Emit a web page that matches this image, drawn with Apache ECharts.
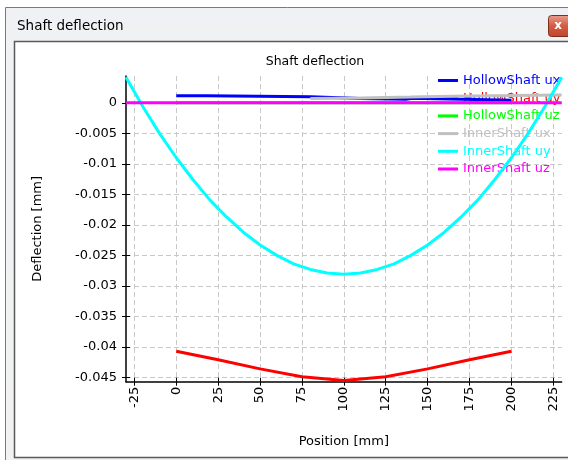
<!DOCTYPE html>
<html><head><meta charset="utf-8">
<script src="https://cdn.jsdelivr.net/npm/echarts@6/dist/echarts.min.js"></script>
<style>html,body{margin:0;padding:0;background:#fff}#c{width:568px;height:460px}</style>
</head><body><div id="c"></div>
<script>
// ---- data ----
const windowTitle = 'Shaft deflection';
const chartTitle = 'Shaft deflection';
const xName = 'Position [mm]';
const yName = 'Deflection [mm]';
const xTicks = [-25, 0, 25, 50, 75, 100, 125, 150, 175, 200, 225];
const yTicks = [0, -0.005, -0.01, -0.015, -0.02, -0.025, -0.03, -0.035, -0.04, -0.045];
const seriesNames = ['HollowShaft ux', 'HollowShaft uy', 'HollowShaft uz', 'InnerShaft ux', 'InnerShaft uy', 'InnerShaft uz'];
const seriesColors = ['#0000ff', '#ff0000', '#00ff00', '#c0c0c0', '#00ffff', '#ff00ff'];

const hollowUxX = [0, 18, 18, 80, 80, 110, 110, 137, 137, 141, 141, 200];
const hollowUxY = [0.00115, 0.00115, 0.001, 0.001, 0.0007, 0.0007, 0.0006, 0.0006, 0.00075, 0.00075, 0.00044, 0.00044];

const hollowUyX = [0, 25, 50, 75, 100, 125, 150, 175, 200];
const hollowUyY = [-0.0407, -0.0421, -0.0436, -0.0449, -0.0455, -0.0449, -0.0436, -0.0421, -0.0407];

const hollowUzX = [0, 200];
const hollowUzY = [0, 0];

const innerUxX = [80, 110, 140, 165, 200, 230];
const innerUxY = [0.0007, 0.0008, 0.00095, 0.0011, 0.0012, 0.0013];

const innerUyX = [-30, -20, -10, 0, 10, 20, 30, 40, 50, 60, 70, 80, 90, 100, 110, 120, 130, 140, 150, 160, 170, 180, 190, 200, 210, 220, 230];
const innerUyY = [0.0042, -0.0006, -0.0050, -0.0090, -0.0126, -0.0159, -0.0187, -0.0212, -0.0233, -0.0250, -0.0264, -0.0273, -0.0279, -0.0281, -0.0279, -0.0273, -0.0264, -0.0250, -0.0233, -0.0212, -0.0187, -0.0159, -0.0126, -0.0090, -0.0050, -0.0006, 0.0042];

const innerUzX = [-30, 230];
const innerUzY = [0, 0];

const xMin = -30, xMax = 230;
const yMin = -0.0457, yMax = 0.0044;

// ---- build ----
const zip = (xs, ys) => xs.map((x, i) => [x, ys[i]]);
const seriesData = [
  zip(hollowUxX, hollowUxY), zip(hollowUyX, hollowUyY), zip(hollowUzX, hollowUzY),
  zip(innerUxX, innerUxY), zip(innerUyX, innerUyY), zip(innerUzX, innerUzY)
];
const FONT = 'DejaVu Sans';
const chart = echarts.init(document.getElementById('c'), null, {renderer: 'canvas'});

const gridLine = {show: true, lineStyle: {color: '#c8c8c8', type: [5, 3], width: 1}};

const option = {
  animation: false,
  backgroundColor: '#ffffff',
  textStyle: {fontFamily: FONT},
  title: {
    text: chartTitle, left: 310, top: 50, textAlign: 'center',
    textStyle: {fontFamily: FONT, fontSize: 12.5, fontWeight: 'normal', color: '#000'}
  },
  graphic: [
    {type: 'rect', z: -10, silent: true, shape: {x: 5.5, y: 7.5, width: 600, height: 460},
      style: {fill: new echarts.graphic.LinearGradient(0, 0, 0, 1, [{offset: 0, color: '#eef0f3'}, {offset: 0.08, color: '#f1f2f4'}, {offset: 1, color: '#f2f2f2'}]), stroke: '#7a7a7a', lineWidth: 1}},
    {type: 'rect', z: -9, silent: true, shape: {x: 14.5, y: 41.5, width: 600, height: 416},
      style: {fill: '#ffffff', stroke: '#5a5a5a', lineWidth: 1.5}},
    {type: 'text', z: -8, silent: true, style: {x: 17, y: 26, text: windowTitle, fontFamily: FONT, fontSize: 13.5, fill: '#000', verticalAlign: 'middle'}},
    {type: 'rect', z: -8, silent: true, shape: {x: 548.5, y: 15.5, width: 30, height: 21, r: 3},
      style: {fill: new echarts.graphic.LinearGradient(0, 0, 0, 1, [{offset: 0, color: '#e8a090'}, {offset: 0.5, color: '#d45a43'}, {offset: 1, color: '#c0452c'}]), stroke: '#7d3020', lineWidth: 1}},
    {type: 'text', z: -7, silent: true, style: {x: 558, y: 26, text: 'x', fontFamily: FONT, fontSize: 12, fontWeight: 'bold', fill: '#fff', align: 'center', verticalAlign: 'middle'}}
  ],
  legend: {
    orient: 'vertical', left: 438, top: 73, padding: 0, z: 1,
    itemWidth: 20, itemHeight: 3, itemGap: 2.7, icon: 'rect',
    textStyle: {fontFamily: FONT, fontSize: 13, lineHeight: 15},
    data: seriesNames.map((n, i) => ({name: n, textStyle: {color: seriesColors[i]}}))
  },
  grid: {left: 126, right: 6.3, top: 76, bottom: 78.3, containLabel: false},
  xAxis: [
    {type: 'value', min: xMin, max: xMax, position: 'bottom',
      name: xName, nameLocation: 'middle', nameGap: 53,
      nameTextStyle: {fontFamily: FONT, fontSize: 13, color: '#000'},
      axisLine: {onZero: false, lineStyle: {color: '#000', width: 1.5}},
      axisTick: {show: true, customValues: xTicks, length: 4, lineStyle: {color: '#000'}},
      axisLabel: {customValues: xTicks, rotate: 90, margin: 5, fontFamily: FONT, fontSize: 13, color: '#000'},
      splitLine: gridLine},
    {type: 'value', min: xMin, max: xMax, position: 'bottom',
      axisLine: {show: false, onZero: false},
      axisTick: {show: true, inside: true, customValues: xTicks, length: 4, lineStyle: {color: '#000'}},
      axisLabel: {show: false}, splitLine: {show: false}}
  ],
  yAxis: [
    {type: 'value', min: yMin, max: yMax, position: 'left',
      name: yName, nameLocation: 'middle', nameGap: 82,
      nameTextStyle: {fontFamily: FONT, fontSize: 13, color: '#000'},
      axisLine: {show: true, onZero: false, lineStyle: {color: '#000', width: 1.5}},
      axisTick: {show: true, customValues: yTicks, length: 4, lineStyle: {color: '#000'}},
      axisLabel: {customValues: yTicks, margin: 9, fontFamily: FONT, fontSize: 13, color: '#000', formatter: v => String(v)},
      splitLine: gridLine},
    {type: 'value', min: yMin, max: yMax, position: 'left',
      axisLine: {show: false, onZero: false},
      axisTick: {show: true, inside: true, customValues: yTicks, length: 4, lineStyle: {color: '#000'}},
      axisLabel: {show: false}, splitLine: {show: false}}
  ],
  series: seriesNames.map((n, i) => ({
    name: n, type: 'line', data: seriesData[i], showSymbol: false, symbol: 'none',
    xAxisIndex: 0, yAxisIndex: 0, z: 3 + i, clip: false,
    color: seriesColors[i], lineStyle: {color: seriesColors[i], width: 3}
  }))
};
chart.setOption(option);
</script></body></html>
